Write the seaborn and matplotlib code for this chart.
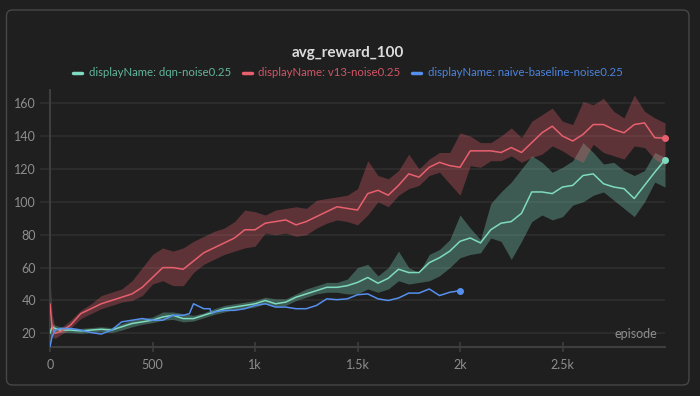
import matplotlib
matplotlib.use("Agg")
import matplotlib.pyplot as plt
import seaborn as sns
import pandas as pd
from matplotlib.patches import FancyBboxPatch
from matplotlib.lines import Line2D
from matplotlib.transforms import IdentityTransform

# ---------------- data ----------------
EPISODES = [0, 10, 25, 50, 100, 150, 200, 250, 300, 350, 400, 450, 500, 550, 600, 650,
            700, 750, 800, 850, 900, 950, 1000, 1050, 1100, 1150, 1200, 1250, 1300, 1350,
            1400, 1450, 1500, 1550, 1600, 1650, 1700, 1750, 1800, 1850, 1900, 1950, 2000,
            2050, 2100, 2150, 2200, 2250, 2300, 2350, 2400, 2450, 2500, 2550, 2600, 2650,
            2700, 2750, 2800, 2850, 2900, 2950, 3000]

V13_MEAN = [38, 24, 20, 21, 25, 32, 35, 38, 40, 42, 44, 48, 54, 60, 60, 59,
            64, 69, 72, 75, 78, 83, 83, 87, 88, 89, 86, 88, 91, 94,
            97, 96, 95, 105, 107, 104, 110, 117, 115, 121, 124, 122, 121,
            131, 131, 131, 130, 133, 130, 136, 142, 146, 140, 137, 141, 147,
            147, 144, 142, 147, 148, 139, 138.7]
V13_LOW = [15, 18, 17, 19, 23, 29, 32, 35, 37, 39, 40, 43, 50, 52, 49, 49,
           57, 62, 65, 68, 70, 72, 73, 81, 80, 81, 79, 80, 84, 87,
           89, 88, 86, 92, 100, 97, 104, 108, 110, 116, 118, 111, 104,
           122, 121, 125, 125, 128, 124, 127, 129, 134, 131, 127, 124, 135,
           130, 128, 126, 134, 133, 126, 122]
V13_HIGH = [55, 32, 23, 23, 28, 34, 38, 43, 45, 47, 52, 60, 68, 72, 70, 72,
            76, 79, 82, 84, 88, 95, 94, 92, 95, 96, 97, 96, 101, 102,
            103, 104, 108, 125, 116, 114, 119, 129, 120, 126, 130, 130, 142,
            140, 136, 136, 140, 145, 139, 149, 153, 157, 149, 147, 161, 159,
            163, 155, 151, 165, 155, 151, 148]

DQN_MEAN = [20, 24, 23, 22, 22, 21.5, 22, 22.5, 22, 24, 26, 27, 28, 30, 31, 29,
            29, 31, 33, 35, 36, 37, 38, 40, 38, 39, 42, 44, 46, 48,
            48, 49, 51, 54, 50.5, 53.5, 59, 57, 57, 63, 66, 70, 76,
            78, 75, 83, 87, 88, 93, 106, 106, 105, 109, 110, 116, 117,
            111, 109, 108, 102, 110, 118, 125.5]
DQN_LOW = [17, 21, 21, 20.5, 20.5, 20, 20.5, 21, 20.5, 22, 24, 25.5, 26.5, 28, 28.5, 27,
           27.5, 29.5, 31.5, 33, 34.5, 35, 36, 38, 36, 37, 40, 42, 44, 45,
           45, 44, 44, 47, 45, 47, 52, 50, 51, 52, 55, 60, 66,
           68, 69, 78, 76, 65, 76, 88, 92, 89, 91, 98, 100, 104,
           106, 101, 96, 91, 100, 112, 109]
DQN_HIGH = [24, 26, 25, 24, 23.5, 23, 23.5, 24, 23.5, 26, 28, 29, 30, 33, 33, 32,
            31, 32.5, 35, 37, 38, 39, 40, 42, 41, 41, 44, 47, 49, 51,
            51, 53, 60, 62, 55, 60, 70, 60, 57, 68, 71, 77, 92,
            84, 77, 99, 106, 112, 120, 128, 124, 118, 121, 125, 136, 130,
            123, 124, 119, 116, 119, 130, 127]

NAIVE_EPISODES = [0, 10, 25, 50, 100, 150, 200, 250, 300, 350, 400, 450, 500, 550, 600, 650,
                  680, 700, 750, 780, 790, 800, 850, 900, 950, 1000, 1050, 1100, 1150, 1200,
                  1250, 1300, 1350, 1400, 1450, 1500, 1550, 1600, 1650, 1700, 1750, 1800,
                  1850, 1900, 1950, 2000]
NAIVE_MEAN = [12, 18, 22, 23, 23, 22, 20.5, 19.6, 22, 27, 28, 29, 28, 28, 31, 31,
              32, 38, 35, 35, 32, 33, 34, 34, 35, 37, 38, 36, 36, 35,
              35, 37, 41, 40.5, 41, 43.5, 44, 41, 40, 41.5, 44.5, 44.5,
              47, 43, 45, 46]

RUN_NAMES = ["displayName: dqn-noise0.25", "displayName: v13-noise0.25",
             "displayName: naive-baseline-noise0.25"]
LINE_COLORS = ["#7fdbbf", "#e8606e", "#5590ee"]
TEXT_COLORS = ["#62b59c", "#cf5565", "#4b84de"]
X_TICKS = [0, 500, 1000, 1500, 2000, 2500]
X_TICK_LABELS = ["0", "500", "1k", "1.5k", "2k", "2.5k"]
Y_TICKS = [20, 40, 60, 80, 100, 120, 140, 160]

# ---------------- styling ----------------
BG = "#1f1f1f"
GRID = "#2e2e2e"
SPINE = "#3e3e3e"
TICKTXT = "#8e8e8e"

sns.set_theme(style="dark")
plt.rcParams["font.family"] = ["Lato", "DejaVu Sans"]

fig = plt.figure(figsize=(7, 3.96), dpi=100, facecolor=BG)
ax = fig.add_axes([50 / 700, (396 - 346.7) / 396, 615 / 700, (346.7 - 90) / 396])
ax.set_facecolor(BG)

df = pd.concat([
    pd.DataFrame({"episode": EPISODES, "value": DQN_MEAN, "run": RUN_NAMES[0]}),
    pd.DataFrame({"episode": EPISODES, "value": V13_MEAN, "run": RUN_NAMES[1]}),
    pd.DataFrame({"episode": NAIVE_EPISODES, "value": NAIVE_MEAN, "run": RUN_NAMES[2]}),
], ignore_index=True)

# bands
ax.fill_between(EPISODES, DQN_LOW, DQN_HIGH, color=LINE_COLORS[0], alpha=0.32, linewidth=0, zorder=1)
ax.fill_between(EPISODES, V13_LOW, V13_HIGH, color=LINE_COLORS[1], alpha=0.31, linewidth=0, zorder=1)

sns.lineplot(data=df, x="episode", y="value", hue="run", hue_order=RUN_NAMES,
             palette=dict(zip(RUN_NAMES, LINE_COLORS)), estimator=None,
             linewidth=1.1, legend=False, ax=ax, zorder=3)

# end-point dots
ax.scatter([EPISODES[-1]], [DQN_MEAN[-1]], s=16, color=LINE_COLORS[0], zorder=4, clip_on=False)
ax.scatter([EPISODES[-1]], [V13_MEAN[-1]], s=16, color=LINE_COLORS[1], zorder=4, clip_on=False)
ax.scatter([NAIVE_EPISODES[-1]], [NAIVE_MEAN[-1]], s=16, color=LINE_COLORS[2], zorder=4, clip_on=False)

ax.set_xlim(0, 3000)
ax.set_ylim(11.9, 168)
ax.set_xticks(X_TICKS)
ax.set_xticklabels(X_TICK_LABELS)
ax.set_yticks(Y_TICKS)
ax.set_xlabel("")
ax.set_ylabel("")

ax.grid(False)
ax.yaxis.grid(True, color=GRID, linewidth=1.2)
ax.set_axisbelow(True)
for s in ["top", "right"]:
    ax.spines[s].set_visible(False)
for s in ["left", "bottom"]:
    ax.spines[s].set_visible(True)
    ax.spines[s].set_color(SPINE)
    ax.spines[s].set_linewidth(1.5)

ax.tick_params(axis="y", which="both", left=True, length=7, width=1.2, color=GRID,
               labelcolor=TICKTXT, labelsize=9, pad=3, direction="out")
ax.tick_params(axis="x", which="both", bottom=True, length=7, width=1.2, color=SPINE,
               labelcolor=TICKTXT, labelsize=9, pad=5, direction="inout")

ax.text(0.988, 0.025, "episode", transform=ax.transAxes, ha="right", va="bottom",
        color=TICKTXT, fontsize=9)

# title & legend
fig.text(0.497, (396 - 53) / 396, "avg_reward_100", ha="center", va="center",
         color="#dcdcdc", fontsize=11, fontweight="bold")

handles = [Line2D([0], [0], color=c, linewidth=2.5) for c in LINE_COLORS]
fig.legend(handles, RUN_NAMES, loc="center", bbox_to_anchor=(0.497, (396 - 73) / 396),
           ncol=3, frameon=False, fontsize=8.2, handlelength=0.8, handletextpad=0.6,
           columnspacing=1.0, labelcolor=TEXT_COLORS)

# outer rounded panel border
border = FancyBboxPatch((6.5, 11), 682.5, 375, boxstyle="round,pad=0,rounding_size=6",
                        transform=IdentityTransform(), fill=False, edgecolor="#474747",
                        linewidth=1.0)
fig.add_artist(border)

fig.savefig("out.png", dpi=100, facecolor=BG)
